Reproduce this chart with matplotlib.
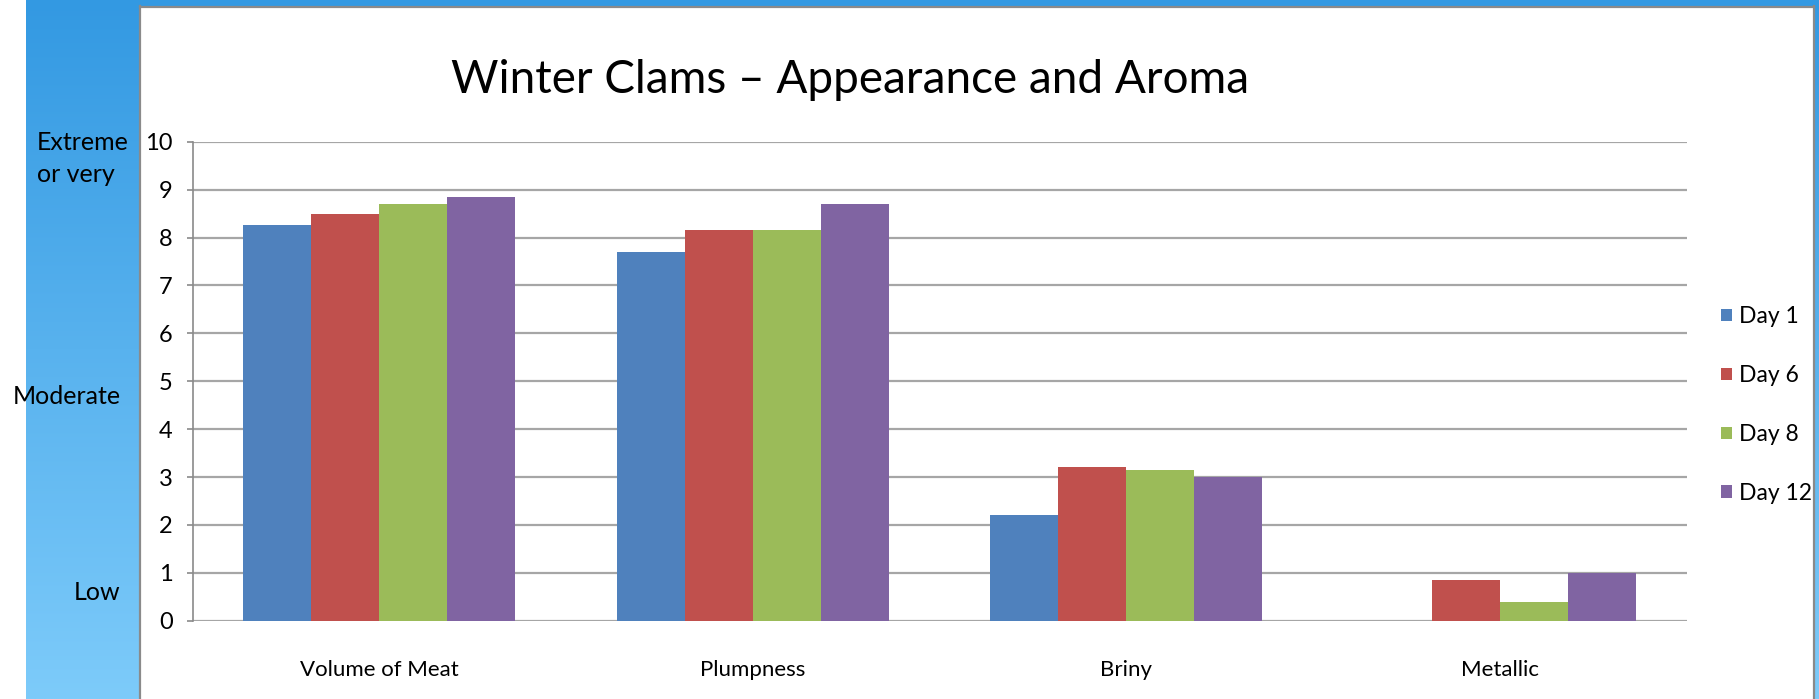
import numpy as np
import matplotlib
matplotlib.use("Agg")
import matplotlib.pyplot as plt
from matplotlib.colors import LinearSegmentedColormap
from matplotlib.lines import Line2D
from matplotlib.patches import Rectangle

categories = ["Volume of Meat", "Plumpness", "Briny", "Metallic"]
series_names = ["Day 1", "Day 6", "Day 8", "Day 12"]
day1 = [8.27, 7.69, 2.20, 0.0]
day6 = [8.50, 8.15, 3.20, 0.84]
day8 = [8.69, 8.15, 3.14, 0.40]
day12 = [8.85, 8.69, 3.00, 1.00]
y_ticks = [0, 1, 2, 3, 4, 5, 6, 7, 8, 9, 10]
scale_labels = ["Extreme\nor very", "Moderate", "Low"]

colors = ["#4F81BD", "#C0504D", "#9BBB59", "#8064A2"]

W, H = 1819, 699
fig = plt.figure(figsize=(W / 100, H / 100), dpi=100)
fig.patch.set_facecolor("white")

# blue background panels (left gradient, top strip, right edge)
blue_cmap = LinearSegmentedColormap.from_list("panel", ["#3399E2", "#7DCBFA"])
grad = np.linspace(0, 1, 256).reshape(-1, 1)
for x0, x1 in [(26, 140), (1814, 1819)]:
    bg = fig.add_axes([x0 / W, 0, (x1 - x0) / W, 1], zorder=-5)
    bg.imshow(grad, aspect="auto", cmap=blue_cmap, extent=[0, 1, 0, 1])
    bg.set_axis_off()
fig.patches.append(Rectangle((26 / W, 1 - 6 / H), 1, 6 / H, transform=fig.transFigure,
                             facecolor="#3399E2", edgecolor="none", zorder=-4))

# grey frame of the white chart area
frame = "#8A8A8A"
fig.add_artist(Line2D([140 / W, 140 / W], [0, 1 - 6 / H], color=frame, lw=1.6, transform=fig.transFigure))
fig.add_artist(Line2D([140 / W, 1814 / W], [1 - 6.5 / H, 1 - 6.5 / H], color=frame, lw=1.6, transform=fig.transFigure))
fig.add_artist(Line2D([1814 / W, 1814 / W], [0, 1 - 6 / H], color=frame, lw=1.6, transform=fig.transFigure))

ax = fig.add_axes([192.7 / W, 78.3 / H, (1686.7 - 192.7) / W, (620.7 - 141.7) / H])
x = np.arange(len(categories))
bar_w = 0.182
for i, (name, vals) in enumerate(zip(series_names, [day1, day6, day8, day12])):
    ax.bar(x + (i - 1.5) * bar_w, vals, bar_w, color=colors[i], label=name, zorder=3)

ax.set_xlim(-0.5, 3.5)
ax.set_ylim(0, 10)
ax.set_yticks(y_ticks)
ax.set_xticks(x)
ax.set_xticklabels(categories, family="Lato", fontsize=16)
ax.set_yticklabels([str(v) for v in y_ticks], family="Lato", fontsize=17)
ax.tick_params(axis="x", length=0, pad=28)
ax.tick_params(axis="y", length=4.5, width=1.2, color="#8A8A8A", pad=10)
ax.grid(axis="y", color="#A6A6A6", linewidth=1.6, zorder=0)
for side in ["top", "right", "bottom"]:
    ax.spines[side].set_visible(False)
ax.spines["left"].set_color("#8A8A8A")
ax.spines["left"].set_linewidth(1.2)

ax.legend(loc="center left", bbox_to_anchor=(1710 / W, 1 - 405 / H), bbox_transform=fig.transFigure,
          frameon=False, prop={"family": "Lato", "size": 16.5},
          handlelength=0.45, handleheight=0.45, handletextpad=0.3, labelspacing=1.65, borderpad=0)

fig.text(850 / W, 1 - 92.7 / H, "Winter Clams \u2013 Appearance and Aroma", ha="center", va="baseline",
         fontsize=33, family="Lato")

label_font = {"family": "Lato", "fontsize": 18}
fig.text(37 / W, 1 - 158.5 / H, scale_labels[0], ha="left", va="center", linespacing=1.5, **label_font)
fig.text(13 / W, 1 - 397 / H, scale_labels[1], ha="left", va="center", **label_font)
fig.text(74 / W, 1 - 593 / H, scale_labels[2], ha="left", va="center", **label_font)

fig.savefig("out.png", dpi=100)
